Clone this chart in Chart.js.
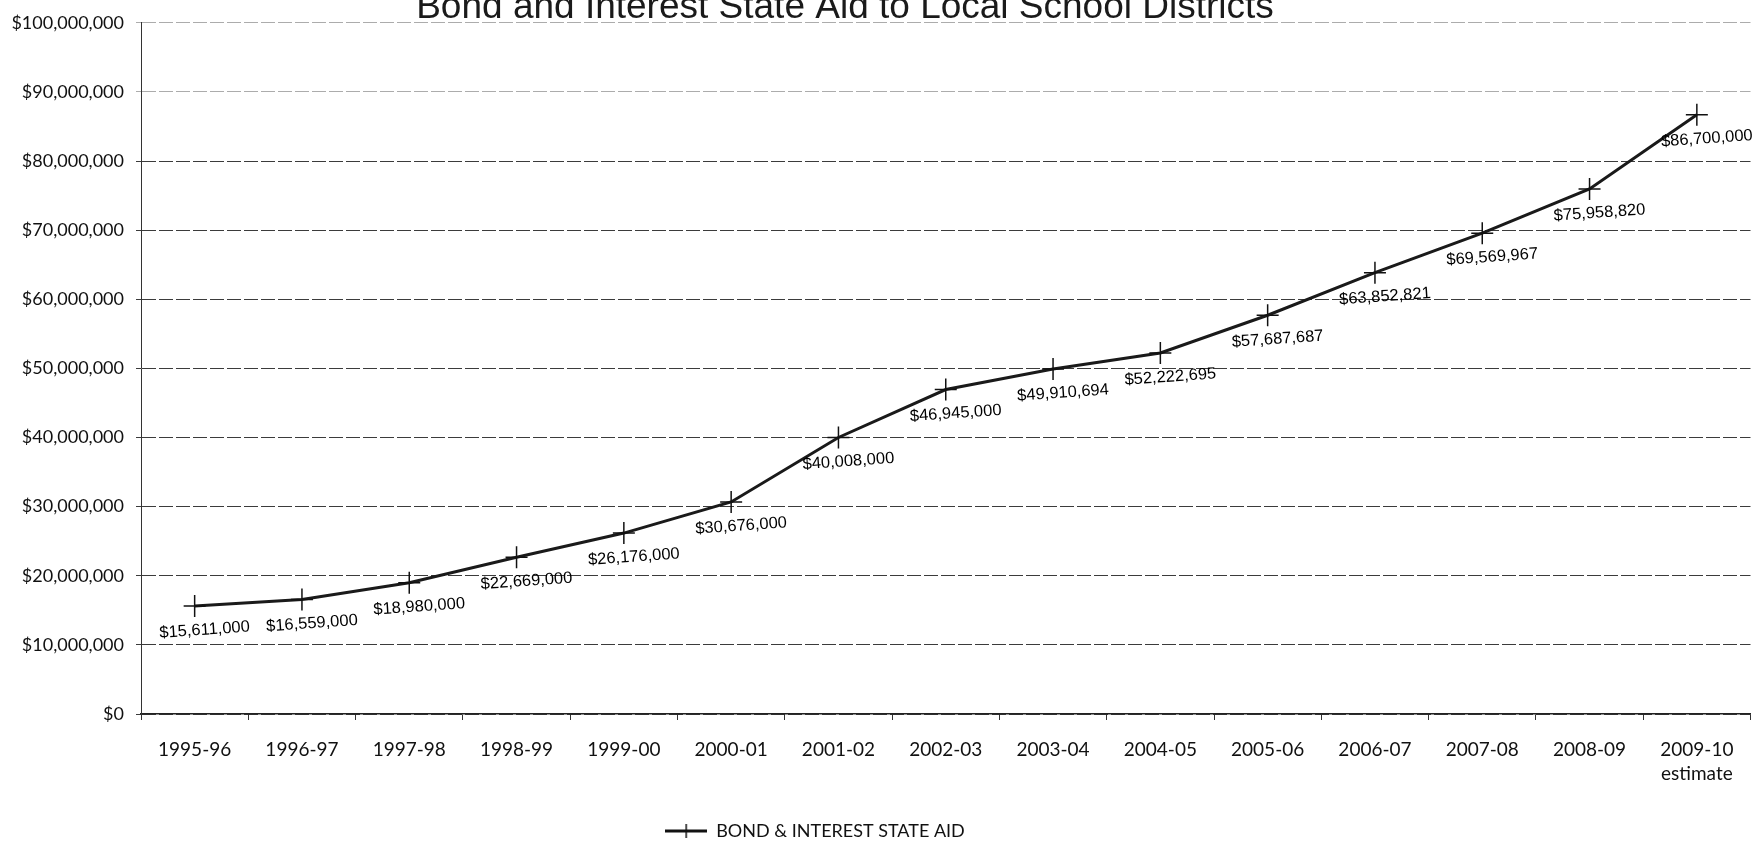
<!DOCTYPE html>
<html>
<head>
<meta charset="utf-8">
<script src="https://cdn.jsdelivr.net/npm/chart.js@4/dist/chart.umd.min.js"></script>
<style>
  html, body { margin: 0; padding: 0; background: #ffffff; }
  #wrap { width: 1763px; height: 844px; }
</style>
</head>
<body>
<div id="wrap"><canvas id="c" width="1763" height="844"></canvas></div>
<script>
const chartTitle = 'Bond and Interest State Aid to Local School Districts';
const seriesName = 'BOND & INTEREST STATE AID';
const categories = ['1995-96', '1996-97', '1997-98', '1998-99', '1999-00', '2000-01', '2001-02',
  '2002-03', '2003-04', '2004-05', '2005-06', '2006-07', '2007-08', '2008-09', ['2009-10', 'estimate']];
const aidValues = [15611000, 16559000, 18980000, 22669000, 26176000, 30676000, 40008000,
  46945000, 49910694, 52222695, 57687687, 63852821, 69569967, 75958820, 86700000];
const yMin = 0;
const yMax = 100000000;
const yStep = 10000000;

function money(v) { return '$' + Number(v).toLocaleString('en-US'); }

function legendIcon() {
  const c = document.createElement('canvas');
  c.width = 42; c.height = 16;
  const g = c.getContext('2d');
  g.strokeStyle = '#111';
  g.lineWidth = 3;
  g.beginPath(); g.moveTo(0, 8); g.lineTo(42, 8); g.stroke();
  g.lineWidth = 1.5;
  g.beginPath(); g.moveTo(21, 1); g.lineTo(21, 15); g.stroke();
  return c;
}
const icon = legendIcon();

const titlePlugin = {
  id: 'topTitle',
  afterDraw(chart) {
    const ctx = chart.ctx;
    ctx.save();
    ctx.font = '37px "Liberation Sans", Arial, sans-serif';
    ctx.fillStyle = '#1a1a1a';
    ctx.textAlign = 'center';
    ctx.textBaseline = 'alphabetic';
    ctx.fillText(chartTitle, 845, 18);
    ctx.restore();
  }
};

const valueLabels = {
  id: 'valueLabels',
  afterDatasetsDraw(chart) {
    const ctx = chart.ctx;
    const meta = chart.getDatasetMeta(0);
    const data = chart.data.datasets[0].data;
    ctx.save();
    ctx.font = '16.5px "Liberation Sans", Arial, sans-serif';
    ctx.fillStyle = '#000';
    ctx.textAlign = 'center';
    ctx.textBaseline = 'middle';
    meta.data.forEach((pt, i) => {
      ctx.save();
      ctx.translate(pt.x + 10, pt.y + 24);
      ctx.rotate(-4 * Math.PI / 180);
      ctx.fillText(money(data[i]), 0, 0);
      ctx.restore();
    });
    ctx.restore();
  }
};

const legendShift = {
  id: 'legendShift',
  afterLayout(chart) {
    const lg = chart.legend;
    if (lg) { lg.left -= 62; lg.right -= 62; lg.top += 6; lg.bottom += 6; }
  }
};

new Chart(document.getElementById('c'), {
  type: 'line',
  data: {
    labels: categories,
    datasets: [{
      label: seriesName,
      data: aidValues,
      borderColor: '#1a1a1a',
      borderWidth: 3,
      pointStyle: 'cross',
      pointRadius: 11,
      pointHoverRadius: 11,
      pointBorderWidth: 1.5,
      pointBorderColor: '#111',
      pointBackgroundColor: '#111',
      tension: 0,
      fill: false
    }]
  },
  options: {
    responsive: false,
    animation: false,
    layout: { padding: { top: 19, right: 9, left: 0, bottom: 0 } },
    plugins: {
      title: { display: false },
      tooltip: { enabled: false },
      legend: {
        display: true,
        position: 'bottom',
        labels: {
          usePointStyle: true,
          pointStyleWidth: 42,
          padding: 5,
          color: '#111',
          font: { family: 'Lato, "Open Sans", sans-serif', size: 18 },
          generateLabels: (chart) => [{
            text: seriesName,
            pointStyle: icon,
            fillStyle: '#111',
            strokeStyle: '#111',
            lineWidth: 0,
            fontColor: '#111',
            datasetIndex: 0,
            hidden: false
          }]
        }
      }
    },
    scales: {
      x: {
        offset: true,
        grid: { display: true, offset: true, drawOnChartArea: false, drawTicks: true, tickLength: 6, color: '#333' },
        border: { display: true, color: '#222', width: 1.5 },
        ticks: {
          color: '#111',
          padding: 18,
          maxRotation: 0,
          autoSkip: false,
          font: { family: 'Lato, "Open Sans", sans-serif', size: 19, lineHeight: 1.25 }
        },
        afterFit(s) { s.height = 97; }
      },
      y: {
        min: yMin,
        max: yMax,
        grid: {
          color: (ctx) => (ctx.tick && ctx.tick.value >= 90000000) ? 'rgba(90,90,90,0.5)' : 'rgba(25,25,25,0.85)',
          lineWidth: 1,
          tickLength: 5,
          drawTicks: true
        },
        border: { display: true, color: '#333', width: 1, dash: [14, 3] },
        ticks: {
          stepSize: yStep,
          padding: 12,
          color: '#111',
          font: { family: 'Lato, "Open Sans", sans-serif', size: 18 },
          callback: (v) => money(v)
        },
        afterFit(s) { s.width = 141; }
      }
    }
  },
  plugins: [titlePlugin, valueLabels, legendShift]
});
</script>
</body>
</html>
